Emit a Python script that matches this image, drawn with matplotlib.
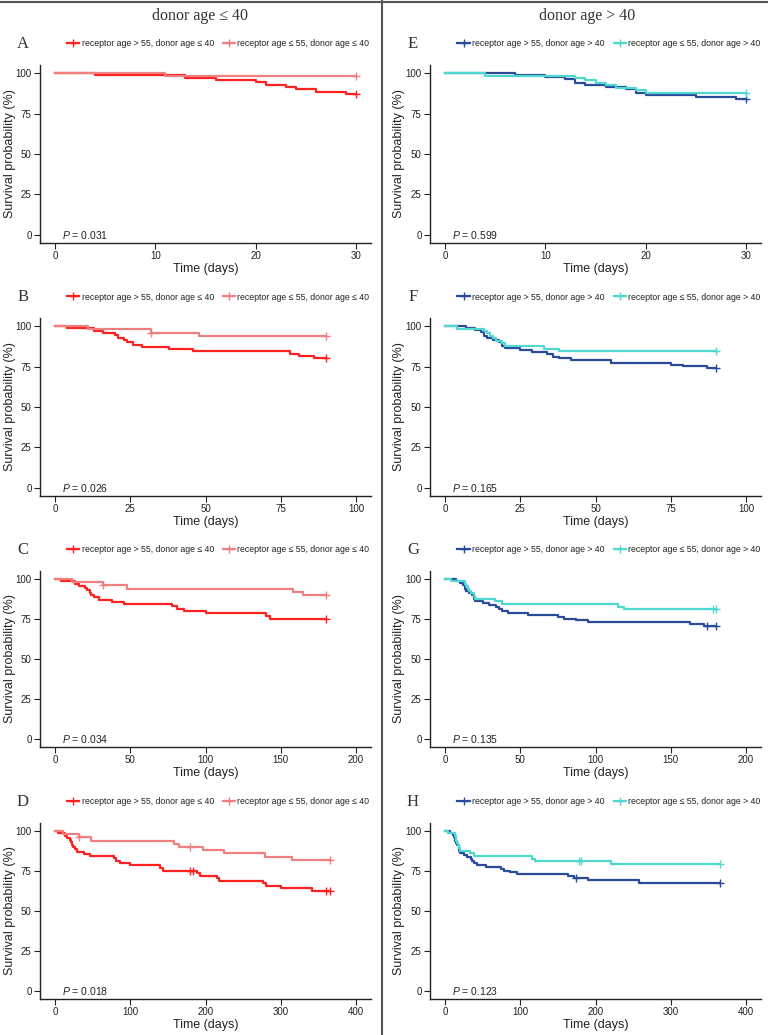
import matplotlib
matplotlib.use("Agg")
import matplotlib.pyplot as plt
import matplotlib.transforms as mtransforms
from matplotlib.lines import Line2D

plt.rcParams["font.family"] = ["Liberation Sans", "DejaVu Sans"]
plt.rcParams["mathtext.fontset"] = "custom"
plt.rcParams["mathtext.it"] = "Liberation Sans:italic"
plt.rcParams["mathtext.rm"] = "Liberation Sans"

# ---- data (days, survival %) ----
# donor age <= 40
old_young_t = [0, 4, 13, 16, 20, 21, 23, 24, 26, 29, 38, 46, 78, 81, 86, 100, 140, 143,
               189, 193, 215, 218, 277, 281, 300, 341]
old_young_s = [100, 98.6, 97.1, 95.7, 94.3, 92.9, 91.4, 90.0, 88.6, 87.1, 85.7, 84.3, 82.9,
               81.4, 80.0, 78.6, 77.0, 75.2, 73.6, 72.0, 70.5, 69.0, 67.4, 65.8, 64.2, 62.3]
old_young_cens = [180, 184, 360]

yng_young_t = [0, 11, 32, 48, 158, 165, 197, 224, 279, 315]
yng_young_s = [100, 98.0, 96.0, 94.0, 92.0, 90.0, 88.0, 86.0, 84.0, 82.0]
yng_young_cens = [32, 180]

# donor age > 40
old_old_t = [0, 7, 10, 12, 13, 14, 16, 18, 19, 20, 25, 29, 34, 36, 38, 42, 55, 75, 79, 87,
             95, 163, 172, 190, 258]
old_old_s = [100, 98.8, 97.5, 96.2, 93.7, 92.5, 91.2, 90.0, 87.5, 86.2, 85.0, 83.8, 82.5,
             81.2, 80.0, 78.8, 77.5, 76.2, 75.2, 74.4, 73.3, 72.0, 70.5, 69.2, 67.8]
old_old_cens = [174]

yng_old_t = [0, 4, 13, 14, 15, 16, 17, 19, 20, 33, 38, 115, 119, 220]
yng_old_s = [100, 98.5, 97.0, 95.5, 94.0, 92.5, 91.0, 89.5, 87.5, 86.0, 84.4, 82.8, 81.2, 79.6]
yng_old_cens = [178, 181]

horizons = [30, 90, 180, 365]
xmax = [30, 100, 200, 400]
xstep = [10, 25, 50, 100]
p_left = ["0.031", "0.026", "0.034", "0.018"]
p_right = ["0.599", "0.165", "0.135", "0.123"]
letters_left = ["A", "B", "C", "D"]
letters_right = ["E", "F", "G", "H"]

lab_left = ["receptor age > 55, donor age ≤ 40", "receptor age ≤ 55, donor age ≤ 40"]
lab_right = ["receptor age > 55, donor age > 40", "receptor age ≤ 55, donor age > 40"]
col_left = ["#FF2020", "#F08080"]
col_right = ["#2A4B9B", "#4FD8CF"]

W, H = 768, 1035
fig = plt.figure(figsize=(W / 100, H / 100), dpi=100)

# frame lines
fig.add_artist(Line2D([0, 1], [1 - 2 / H, 1 - 2 / H], color="#555555", lw=1.5))
fig.add_artist(Line2D([382 / W, 382 / W], [0, 1], color="#555555", lw=1.5))

fig.text(200 / W, 1 - 16 / H, "donor age ≤ 40", family="Liberation Serif", fontsize=11.5,
         ha="center", va="center", color="#333333")
fig.text(587 / W, 1 - 16 / H, "donor age > 40", family="Liberation Serif", fontsize=11.5,
         ha="center", va="center", color="#333333")

tops = [65, 318, 571, 823]
bots = [243, 496, 747, 999]
lw = 1.6


def curve(t, s, cens, h):
    tt = [x for x in t if x <= h]
    ss = s[:len(tt)]
    tt = tt + [h]
    ss = ss + [ss[-1]]
    marks = [c for c in cens if c < h] + [h]
    mv = []
    for c in marks:
        v = 100
        for x, y in zip(t, s):
            if x <= c:
                v = y
        mv.append(v)
    return tt, ss, marks, mv


groups_left = [(old_young_t, old_young_s, old_young_cens), (yng_young_t, yng_young_s, yng_young_cens)]
groups_right = [(old_old_t, old_old_s, old_old_cens), (yng_old_t, yng_old_s, yng_old_cens)]

for col in range(2):
    x0 = 40 if col == 0 else 430
    groups = groups_left if col == 0 else groups_right
    cols = col_left if col == 0 else col_right
    labs = lab_left if col == 0 else lab_right
    pvals = p_left if col == 0 else p_right
    letters = letters_left if col == 0 else letters_right
    for r in range(4):
        ax = fig.add_axes([x0 / W, 1 - bots[r] / H, 331 / W, (bots[r] - tops[r]) / H])
        for g in [0, 1]:
            t, s, c = groups[g]
            tt, ss, mk, mv = curve(t, s, c, horizons[r])
            ax.step(tt, ss, where="post", color=cols[g], lw=lw)
            ax.plot(mk, mv, ls="none", marker="+", ms=6, mew=1.0, color=cols[g])
        xm = xmax[r]
        ax.set_xlim(-0.05 * xm, 1.05 * xm)
        ax.set_ylim(-5, 105)
        ax.set_xticks(range(0, xm + 1, xstep[r]))
        ax.set_yticks([0, 25, 50, 75, 100])
        for sp in ["top", "right"]:
            ax.spines[sp].set_visible(False)
        for sp in ["left", "bottom"]:
            ax.spines[sp].set_linewidth(1.0)
            ax.spines[sp].set_color("#222222")
        ax.tick_params(labelsize=7, length=4, width=0.8, colors="#222222", pad=2)
        ax.set_xlabel("Time (days)", fontsize=9, color="#222222", labelpad=1)
        blend = mtransforms.blended_transform_factory(ax.transAxes, ax.transData)
        ax.text(0.066, 0, r"$\it{P}$ = " + pvals[r], transform=blend, fontsize=7.5,
                va="center", ha="left", color="#222222")
        ylx = (10 if col == 0 else 399) / W
        fig.text(ylx, 1 - (tops[r] + bots[r]) / 2 / H, "Survival probability (%)", rotation=90,
                 fontsize=9, ha="center", va="center", color="#222222")
        ly = tops[r] - 21
        fig.text((23 if col == 0 else 413) / W, 1 - ly / H, letters[r], family="Liberation Serif",
                 fontsize=12, ha="center", va="center", color="#333333")
        handles = [Line2D([], [], color=cols[g], lw=lw, marker="+", ms=6, mew=1.0) for g in range(2)]
        fig.legend(handles, labs, loc="center", bbox_to_anchor=((218 if col == 0 else 609) / W, 1 - ly / H),
                   ncol=2, frameon=False, fontsize=6.3, handlelength=1.4, handletextpad=0.3,
                   columnspacing=1.0, borderpad=0, labelcolor="#222222")

fig.savefig("out.png", dpi=100)
